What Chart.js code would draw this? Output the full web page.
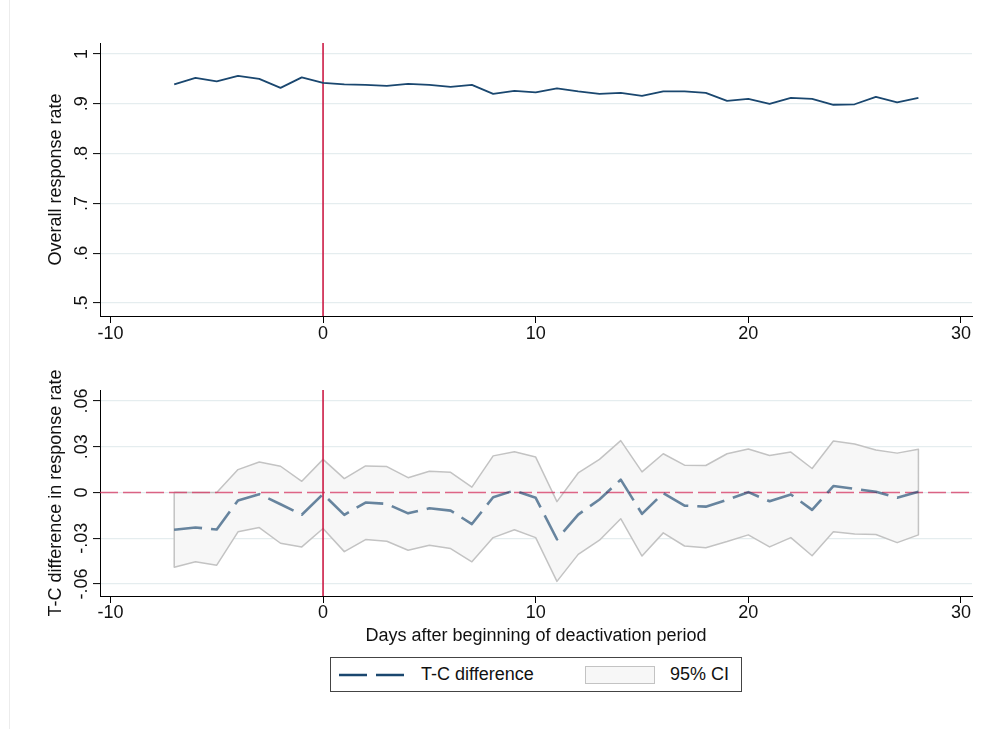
<!DOCTYPE html>
<html><head><meta charset="utf-8">
<script src="https://cdn.jsdelivr.net/npm/chart.js@4.4.1/dist/chart.umd.min.js"></script>
<style>
html,body{margin:0;padding:0;background:#fff;}
#wrap{position:relative;width:997px;height:729px;overflow:hidden;font-family:"Liberation Sans",Arial,Helvetica,sans-serif;background:#fff;}
#c1{position:absolute;left:0;top:0;}
#c2{position:absolute;left:0;top:360px;}
#edge{position:absolute;left:9px;top:0;width:1px;height:729px;background:#ececec;}
#legend{position:absolute;left:330px;top:657px;width:410px;height:33px;border:1px solid #444;background:#fff;}
#legend .t{position:absolute;top:6px;font-size:18px;color:#111;line-height:21px;white-space:nowrap;}
#legend svg{position:absolute;left:0;top:0;}
#legend .box{position:absolute;left:254px;top:8px;width:68px;height:16px;background:#f7f7f7;border:1px solid #c3c3c3;}
</style>
</head><body>
<div id="wrap">
<div id="edge"></div>
<canvas id="c1" width="997" height="360"></canvas>
<canvas id="c2" width="997" height="369"></canvas>
<div id="legend">
  <svg width="90" height="33"><line x1="8" y1="17" x2="74" y2="17" stroke="#1a476f" stroke-width="2.5" stroke-dasharray="28 9"/></svg>
  <div class="t" style="left:90px">T-C difference</div>
  <div class="box"></div>
  <div class="t" style="left:339px">95% CI</div>
</div>
</div>
<script>
// ---- data ----
const days = [-7,-6,-5,-4,-3,-2,-1,0,1,2,3,4,5,6,7,8,9,10,11,12,13,14,15,16,17,18,19,20,21,22,23,24,25,26,27,28];
const overallRate = [0.939,0.952,0.945,0.956,0.950,0.932,0.953,0.942,0.939,0.938,0.936,0.940,0.938,0.934,0.938,0.920,0.926,0.923,0.931,0.925,0.920,0.922,0.916,0.925,0.925,0.922,0.906,0.910,0.900,0.912,0.910,0.898,0.899,0.914,0.903,0.912];
const tcDiff = [-0.0245,-0.0230,-0.0243,-0.0052,-0.0011,-0.0077,-0.0146,-0.0010,-0.0147,-0.0066,-0.0075,-0.0137,-0.0104,-0.0119,-0.0207,-0.0031,0.0013,-0.0035,-0.0307,-0.0145,-0.0046,0.0084,-0.0140,-0.0004,-0.0086,-0.0093,-0.0048,0.0002,-0.0058,-0.0013,-0.0114,0.0042,0.0024,0.0005,-0.0035,0.0005];
const ciUpper = [0.0002,0.0000,0.0000,0.0150,0.0200,0.0172,0.0073,0.0217,0.0091,0.0174,0.0170,0.0097,0.0139,0.0132,0.0035,0.0240,0.0267,0.0232,-0.0060,0.0128,0.0217,0.0340,0.0135,0.0254,0.0179,0.0177,0.0254,0.0285,0.0243,0.0265,0.0157,0.0338,0.0318,0.0278,0.0258,0.0283];
const ciLower = [-0.0490,-0.0455,-0.0477,-0.0258,-0.0230,-0.0333,-0.0357,-0.0236,-0.0388,-0.0309,-0.0320,-0.0379,-0.0346,-0.0368,-0.0455,-0.0296,-0.0245,-0.0296,-0.0583,-0.0406,-0.0313,-0.0172,-0.0417,-0.0265,-0.0351,-0.0362,-0.0322,-0.0278,-0.0357,-0.0296,-0.0415,-0.0258,-0.0273,-0.0276,-0.0329,-0.0278];
const xTicks = [-10,0,10,20,30];
const topYTicks = [0.5,0.6,0.7,0.8,0.9,1];
const topYLabels = ['.5','.6','.7','.8','.9','1'];
const botYTicks = [-0.06,-0.03,0,0.03,0.06];
const botYLabels = ['-.06','-.03','0','.03','.06'];
const eventDay = 0;
const xRange = [-10.49, 30.52];
const topYRange = [0.474, 1.022];
const botYRange = [-0.0679, 0.0672];

const FONT = '"Liberation Sans", Arial, Helvetica, sans-serif';
const TXT = '#111';
const GRID = '#e5edef';

const textPlugin = {
  id: 'stataText',
  afterDraw(chart, args, opts) {
    const ctx = chart.ctx, ca = chart.chartArea, ys = chart.scales.y;
    ctx.save();
    ctx.fillStyle = TXT;
    ctx.font = '18px ' + FONT;
    opts.ticks.forEach((v, i) => {
      const py = ys.getPixelForValue(v);
      ctx.save();
      ctx.translate(ca.left - 13, py);
      ctx.rotate(-Math.PI / 2);
      ctx.textAlign = 'center';
      ctx.textBaseline = 'alphabetic';
      ctx.fillText(opts.labels[i], 0, 0);
      ctx.restore();
    });
    ctx.save();
    ctx.translate(ca.left - 39, (ca.top + ca.bottom) / 2);
    ctx.rotate(-Math.PI / 2);
    ctx.textAlign = 'center';
    ctx.textBaseline = 'alphabetic';
    ctx.fillText(opts.yTitle, 0, 0);
    ctx.restore();
    if (opts.xTitle) {
      ctx.textAlign = 'center';
      ctx.textBaseline = 'alphabetic';
      ctx.fillText(opts.xTitle, (ca.left + ca.right) / 2, ca.bottom + 45);
    }
    ctx.restore();
  }
};

function xScale(pad) {
  return {
    type: 'linear', min: xRange[0], max: xRange[1],
    afterBuildTicks: s => { s.ticks = xTicks.map(v => ({ value: v })); },
    afterFit: s => { s.height = 44; },
    ticks: { font: { size: 18, family: FONT }, color: TXT, padding: pad, maxRotation: 0, autoSkip: false, callback: v => String(v) },
    grid: { drawOnChartArea: false, drawTicks: true, tickLength: 7, tickColor: '#000', tickWidth: 1 },
    border: { display: true, color: '#000', width: 1 }
  };
}
function yScale(range, ticks) {
  return {
    type: 'linear', min: range[0], max: range[1],
    afterBuildTicks: s => { s.ticks = ticks.map(v => ({ value: v })); },
    afterFit: s => { s.width = 100; },
    ticks: { display: false },
    grid: { color: GRID, lineWidth: 1.2, drawTicks: true, tickLength: 7, tickColor: '#000', tickWidth: 1 },
    border: { display: true, color: '#000', width: 1 }
  };
}

const commonPlugins = { legend: { display: false }, tooltip: { enabled: false } };

new Chart(document.getElementById('c1'), {
  type: 'line',
  data: {
    datasets: [
      { data: [{ x: eventDay, y: topYRange[0] }, { x: eventDay, y: topYRange[1] }], borderColor: '#cc1a45', borderWidth: 1.6, pointRadius: 0, fill: false, order: 3 },
      { data: days.map((d, i) => ({ x: d, y: overallRate[i] })), borderColor: '#1a476f', borderWidth: 1.8, pointRadius: 0, fill: false, tension: 0, borderJoinStyle: 'round', order: 1 }
    ]
  },
  options: {
    responsive: false, animation: false, events: [],
    layout: { padding: { left: 0, right: 25, top: 43, bottom: 0 } },
    scales: { x: xScale(0), y: yScale(topYRange, topYTicks) },
    plugins: Object.assign({}, commonPlugins, { stataText: { ticks: topYTicks, labels: topYLabels, yTitle: 'Overall response rate' } })
  },
  plugins: [textPlugin]
});

const bandPts = days.map((d, i) => ({ x: d, y: ciUpper[i] }))
  .concat(days.slice().reverse().map((d, j) => ({ x: d, y: ciLower[days.length - 1 - j] })));
bandPts.push({ x: days[0], y: ciUpper[0] });

new Chart(document.getElementById('c2'), {
  type: 'line',
  data: {
    datasets: [
      { data: bandPts, borderColor: '#c3c3c3', borderWidth: 1.5, backgroundColor: '#f7f7f7', pointRadius: 0, fill: 'shape', tension: 0, borderJoinStyle: 'round', order: 5 },
      { data: [{ x: xRange[0], y: 0 }, { x: xRange[1], y: 0 }], borderColor: 'rgba(214,52,96,0.75)', borderWidth: 1.6, borderDash: [18, 5], pointRadius: 0, fill: false, order: 4 },
      { data: [{ x: eventDay, y: botYRange[0] }, { x: eventDay, y: botYRange[1] }], borderColor: '#cc1a45', borderWidth: 1.6, pointRadius: 0, fill: false, order: 3 },
      { data: days.map((d, i) => ({ x: d, y: tcDiff[i] })), borderColor: 'rgba(26,71,111,0.65)', borderWidth: 2.6, borderDash: [28, 9], pointRadius: 0, fill: false, tension: 0, borderJoinStyle: 'round', order: 1 }
    ]
  },
  options: {
    responsive: false, animation: false, events: [],
    layout: { padding: { left: 0, right: 25, top: 30, bottom: 89 } },
    scales: { x: xScale(-1), y: yScale(botYRange, botYTicks) },
    plugins: Object.assign({}, commonPlugins, { stataText: { ticks: botYTicks, labels: botYLabels, yTitle: 'T-C difference in response rate', xTitle: 'Days after beginning of deactivation period' } })
  },
  plugins: [textPlugin]
});
</script>
</body></html>
